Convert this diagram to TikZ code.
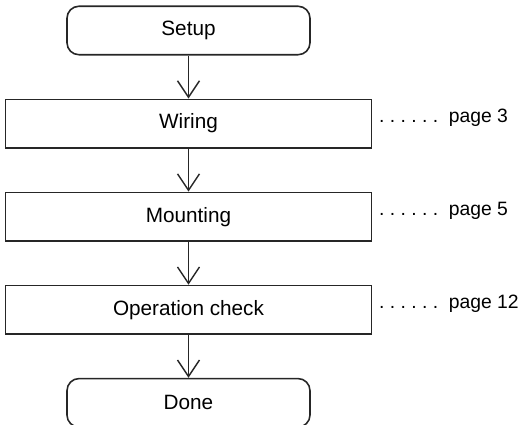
\documentclass[tikz,border=0pt]{standalone}
\usepackage{fontspec}
\setmainfont{Liberation Sans}
\usetikzlibrary{arrows.meta, positioning}

\begin{document}
\begin{tikzpicture}[
    font=\fontsize{11.8}{14}\selectfont,
    node distance=0.86cm,
    stepbox/.style={draw=black!85, line width=0.9pt, minimum width=7.32cm, minimum height=0.97cm, align=center},
    endbox/.style={stepbox, rounded corners=0.24cm, minimum width=4.86cm},
    pagenote/.style={inner sep=0pt, anchor=base west, font=\fontsize{11}{13}\selectfont},
    arrow/.style={-{Straight Barb[length=0.33cm, width=0.44cm]}, draw=black!85, line width=0.8pt}
]
\useasboundingbox (0,0) rectangle (10.44,-8.5);

\node[endbox] (setup) at (3.77,-0.61) {Setup};
\node[stepbox, below=of setup] (wiring) {Wiring};
\node[stepbox, below=of wiring] (mount) {Mounting};
\node[stepbox, below=of mount] (check) {Operation check};
\node[endbox, below=of check] (done) {Done};

\node[pagenote] (p3) at ([xshift=0.13cm, yshift=0.03cm]wiring.east) {.\ .\ .\ .\ .\ .\ \hspace{3pt}page 3};
\node[pagenote] (p5) at ([xshift=0.13cm, yshift=0.03cm]mount.east) {.\ .\ .\ .\ .\ .\ \hspace{3pt}page 5};
\node[pagenote] (p12) at ([xshift=0.13cm, yshift=0.03cm]check.east) {.\ .\ .\ .\ .\ .\ \hspace{3pt}page 12};

\draw[arrow] (setup) -- (wiring);
\draw[arrow] (wiring) -- (mount);
\draw[arrow] (mount) -- (check);
\draw[arrow] (check) -- (done);
\end{tikzpicture}
\end{document}
